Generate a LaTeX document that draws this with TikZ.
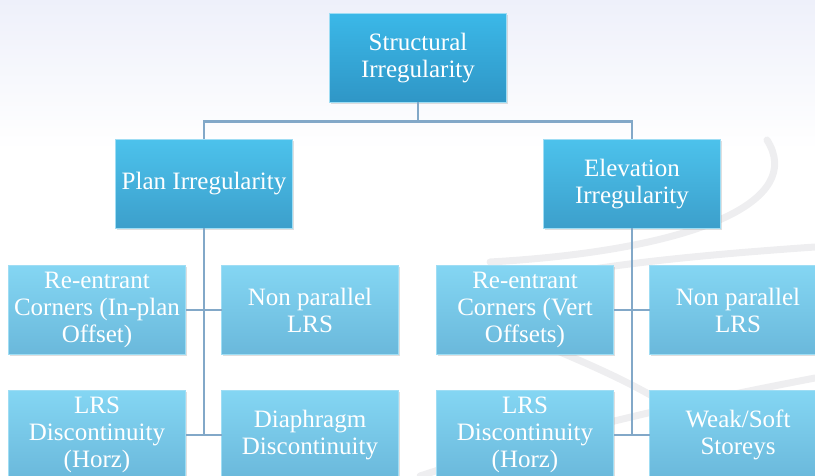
\documentclass[tikz,border=0pt]{standalone}
\usepackage{fontspec}
\setmainfont{Liberation Serif}
\usepackage{xcolor}
\usetikzlibrary{positioning, shadows}

\definecolor{rootTop}{HTML}{3BB8E8}
\definecolor{rootBot}{HTML}{2F96C6}
\definecolor{mainTop}{HTML}{4CC2EC}
\definecolor{mainBot}{HTML}{3C9FCB}
\definecolor{subTop}{HTML}{84D6F3}
\definecolor{subBot}{HTML}{6AB8DB}
\definecolor{edgeBlue}{HTML}{9FDDF4}
\definecolor{connBlue}{HTML}{82A8C8}
\definecolor{bgTop}{HTML}{EEF0FA}
\definecolor{swooshGray}{HTML}{EEEEF0}

\begin{document}
\begin{tikzpicture}[
        x=1pt, y=1pt,
        font=\fontsize{25}{27}\selectfont,
        node distance=36pt,
        box/.style={rectangle, draw=edgeBlue, line width=0.8pt, minimum width=177pt, minimum height=89pt, inner sep=0pt, outer sep=0pt, align=center, text=white, drop shadow={opacity=0.25, shadow xshift=1.2pt, shadow yshift=-1.2pt}},
        rootbox/.style={box, top color=rootTop, bottom color=rootBot},
        mainbox/.style={box, top color=mainTop, bottom color=mainBot},
        subbox/.style={box, top color=subTop, bottom color=subBot},
        conn/.style={draw=connBlue, line width=2.6pt},
        swoosh/.style={draw=swooshGray, line width=7pt, line cap=round}
    ]
        % Page and background
        \clip (0,0) rectangle (815,-476);
        \shade[top color=bgTop, bottom color=white] (0,0) rectangle (815,-150);
        \draw[swoosh] (767,-140) .. controls (805,-200) and (700,-250) .. (490,-262);
        \draw[swoosh] (815,-247) .. controls (700,-255) and (520,-270) .. (485,-300) .. controls (470,-330) and (600,-355) .. (690,-420);
        \draw[swoosh] (420,-476) .. controls (560,-430) and (700,-400) .. (815,-378);

        % Root
        \node[rootbox] (root) at (418,-58) {Structural\\Irregularity};

        % Main branches
        \node[mainbox, below left=37pt and 37pt of root] (plan) {Plan Irregularity};
        \node[mainbox, below right=37pt and 37pt of root] (elev) {Elevation\\Irregularity};

        % Plan irregularities
        \node[subbox, below left=37pt and -70pt of plan] (planreent) {Re-entrant\\Corners (In-plan\\Offset)};
        \node[subbox, right=of planreent] (plannonpar) {Non parallel\\LRS};
        \node[subbox, below=of planreent] (planlrs) {LRS\\Discontinuity\\(Horz)};
        \node[subbox, right=of planlrs] (diaph) {Diaphragm\\Discontinuity};

        % Elevation irregularities
        \node[subbox, below left=37pt and -70pt of elev] (elevreent) {Re-entrant\\Corners (Vert\\Offsets)};
        \node[subbox, right=of elevreent] (elevnonpar) {Non parallel\\LRS};
        \node[subbox, below=of elevreent] (elevlrs) {LRS\\Discontinuity\\(Horz)};
        \node[subbox, right=of elevlrs] (weak) {Weak/Soft\\Storeys};

        % Connectors
        \draw[conn] (root.south) -- ++(0,-19) -| (plan.north);
        \draw[conn] (root.south) -- ++(0,-19) -| (elev.north);

        \draw[conn] (plan.south) |- (planreent.east);
        \draw[conn] (plan.south) |- (plannonpar.west);
        \draw[conn] (plan.south) |- (planlrs.east);
        \draw[conn] (plan.south) |- (diaph.west);

        \draw[conn] (elev.south) |- (elevreent.east);
        \draw[conn] (elev.south) |- (elevnonpar.west);
        \draw[conn] (elev.south) |- (elevlrs.east);
        \draw[conn] (elev.south) |- (weak.west);
    \end{tikzpicture}
\end{document}
